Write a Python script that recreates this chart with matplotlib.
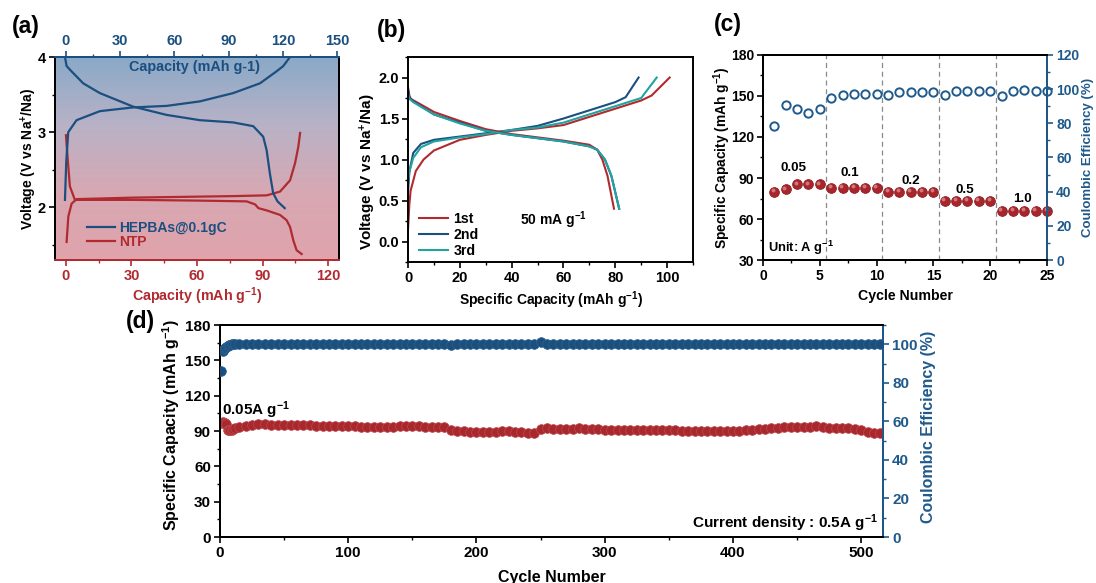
import numpy as np
import matplotlib.pyplot as plt
import matplotlib.transforms as mtransforms
from matplotlib.colors import LinearSegmentedColormap
from matplotlib.ticker import MultipleLocator

plt.rcParams['font.family'] = ['Liberation Sans', 'DejaVu Sans']
plt.rcParams['font.weight'] = 'bold'
plt.rcParams['axes.labelweight'] = 'bold'
plt.rcParams['mathtext.fontset'] = 'custom'
plt.rcParams['mathtext.rm'] = 'Liberation Sans:bold'
plt.rcParams['mathtext.bf'] = 'Liberation Sans:bold'
plt.rcParams['mathtext.it'] = 'Liberation Sans:bold:italic'
plt.rcParams['mathtext.default'] = 'rm'
plt.rcParams['axes.linewidth'] = 1.4

RED = '#b02a30'
BLUE = '#1a4f80'
TEAL = '#22a3a0'
CE_BLUE = '#1f5a8c'

# ---- (a) full cell: HEPBAs cathode (top axis) vs NTP anode (bottom axis)
hep_chg_x = [-0.5, 0.2, 1.3, 5.9, 18.8, 37.2, 55.7, 74.1, 92.5, 107.3, 116.5, 120.2, 123.9]
hep_chg_y = [2.10, 2.60, 3.00, 3.16, 3.28, 3.33, 3.35, 3.41, 3.52, 3.65, 3.81, 3.88, 4.00]
hep_dis_x = [-0.5, 0.4, 3.1, 9.6, 18.8, 37.2, 55.7, 74.1, 92.5, 103.6, 109.1, 111.0, 112.8, 114.6, 117.0, 121.0]
hep_dis_y = [4.00, 3.88, 3.81, 3.65, 3.52, 3.34, 3.23, 3.16, 3.13, 3.08, 2.94, 2.76, 2.45, 2.19, 2.08, 1.99]
ntp_chg_x = [0.3, 1.1, 2.6, 4.9, 30.8, 76.6, 91.9, 98.0, 102.6, 104.9, 106.4, 107.2]
ntp_chg_y = [1.54, 1.88, 2.05, 2.11, 2.13, 2.15, 2.16, 2.21, 2.36, 2.59, 2.81, 2.99]
ntp_dis_x = [0.0, 0.6, 1.8, 4.1, 30.8, 61.4, 82.7, 86.6, 88.1, 91.9, 98.0, 101.0, 102.6, 104.1, 105.6, 107.9]
ntp_dis_y = [2.96, 2.72, 2.28, 2.10, 2.10, 2.09, 2.08, 2.04, 1.99, 1.96, 1.90, 1.83, 1.74, 1.56, 1.43, 1.38]

# ---- (b) first three cycles at 50 mA/g
c1_chg_x = [0, 0.5, 1, 3, 6, 10, 20, 30, 40, 50, 60, 70, 80, 90, 94, 101]
c1_chg_y = [0.15, 0.45, 0.62, 0.86, 1.0, 1.11, 1.24, 1.30, 1.35, 1.38, 1.42, 1.52, 1.62, 1.72, 1.78, 2.0]
c1_dis_x = [0, 0.5, 1, 5, 10, 20, 30, 40, 50, 60, 70, 73, 75, 77, 79.5]
c1_dis_y = [1.88, 1.78, 1.74, 1.67, 1.58, 1.47, 1.37, 1.31, 1.27, 1.23, 1.18, 1.12, 1.0, 0.8, 0.4]
c2_chg_x = [0, 0.5, 2, 5, 10, 20, 30, 40, 50, 60, 70, 80, 84, 89]
c2_chg_y = [0.6, 0.85, 1.08, 1.19, 1.24, 1.28, 1.32, 1.36, 1.41, 1.50, 1.60, 1.70, 1.76, 2.0]
c2_dis_x = [0, 0.5, 2, 10, 20, 30, 40, 50, 60, 70, 73, 76, 78.5, 81.5]
c2_dis_y = [1.85, 1.76, 1.71, 1.55, 1.45, 1.35, 1.30, 1.26, 1.22, 1.16, 1.12, 1.0, 0.8, 0.4]
c3_chg_x = [0, 0.5, 2, 5, 10, 20, 30, 40, 50, 60, 70, 80, 90, 96]
c3_chg_y = [0.7, 0.85, 1.02, 1.15, 1.22, 1.27, 1.31, 1.36, 1.39, 1.45, 1.55, 1.65, 1.75, 2.0]
c3_dis_x = [0, 0.5, 2, 10, 20, 30, 40, 50, 60, 70, 73, 76, 78.5, 81.5]
c3_dis_y = [1.80, 1.74, 1.70, 1.55, 1.44, 1.35, 1.30, 1.26, 1.22, 1.16, 1.12, 1.0, 0.8, 0.4]

# ---- (c) rate performance
rate_cycle = list(range(1, 26))
rate_cap = [80, 82, 85.5, 85.5, 85.5, 83, 83, 83, 83, 83, 80, 80, 80, 80, 80,
            73.5, 73.5, 73.5, 73.5, 73.5, 66, 66, 66, 66, 66]
rate_ce = [78.5, 91, 88.6, 86, 88.2, 95, 96.8, 97.2, 96.9, 97.2, 96.6, 98.5, 98.4, 98.2, 98.6,
           96.6, 99.1, 99.1, 99.1, 99.1, 96.2, 99.2, 99.6, 99.1, 99.2]
rate_labels = ['0.05', '0.1', '0.2', '0.5', '1.0']
rate_label_x = [2.7, 7.6, 13.0, 17.8, 22.8]
rate_label_y = [97.3, 93.6, 87.8, 81.2, 74.6]
rate_breaks = [5.5, 10.5, 15.5, 20.5]

# ---- (d) long cycling at 0.5 A/g
long_cycle = [1, 2, 3, 4, 5, 6, 7, 8, 9, 10, 12] + list(range(15, 516, 5))
long_cap = [97, 97.5, 97, 96.5, 96, 91, 90.5, 90.5, 91, 91.5, 92.5,
            93.5, 94.5, 95.2, 95.6, 95.7, 95.5, 95.3, 95.2, 95.0, 95.0,
            94.8, 94.8, 94.6, 94.5, 94.3, 94.2, 94.1, 94.0, 93.9, 93.8,
            93.6, 93.6, 93.6, 93.7, 93.8, 94.2, 94.1, 94.0, 93.9, 93.8,
            93.6, 93.4, 93.0, 91.0, 90.2, 89.8, 89.5, 89.3, 89.2, 89.0,
            89.5, 90.0, 89.8, 89.3, 88.8, 88.6, 88.3, 92.0, 92.2, 92.0,
            91.8, 91.5, 92.0, 92.2, 92.0, 91.6, 91.4, 91.2, 91.0, 91.0,
            90.8, 90.8, 90.9, 91.0, 91.2, 91.0, 90.8, 90.6, 90.5, 90.4,
            90.3, 90.2, 90.2, 90.1, 90.2, 90.1, 90.0, 90.2, 90.3, 90.5,
            90.8, 91.3, 92.0, 92.5, 92.8, 93.0, 93.2, 93.4, 93.6, 93.8,
            94.0, 93.5, 92.6, 92.2, 92.6, 92.3, 91.6, 90.5, 89.2, 88.5, 88.2]
long_ce = [86.0, 96.5, 97.5, 98.0, 98.5, 99.0, 99.5, 99.8, 100.0, 100.0, 100.1,
           100.0, 100.2, 100.1, 100.0, 100.1, 100.0, 99.9, 100.0, 100.1, 100.0,
           100.0, 99.9, 100.0, 100.1, 100.0, 100.0, 100.1, 99.9, 100.0, 100.0,
           100.1, 100.0, 99.9, 100.0, 100.0, 100.1, 100.0, 100.0, 99.9, 100.0,
           100.1, 100.0, 100.0, 99.8, 100.0, 100.0, 100.1, 100.0, 99.9, 100.0,
           100.0, 100.1, 100.0, 100.0, 99.9, 100.0, 100.0, 101.3, 100.2, 100.0,
           100.0, 100.1, 100.0, 99.9, 100.0, 100.0, 100.1, 100.0, 100.0, 99.9,
           100.0, 100.1, 100.0, 100.0, 100.0, 100.1, 99.9, 100.0, 100.0, 100.1,
           100.0, 100.0, 99.9, 100.0, 100.1, 100.0, 100.0, 100.0, 99.9, 100.0,
           100.1, 100.0, 100.0, 100.2, 100.0, 99.9, 100.0, 100.1, 100.0, 100.0,
           99.9, 100.0, 100.1, 100.0, 100.0, 99.9, 100.0, 100.0, 100.1, 100.0, 100.0]


def style_ticks(ax, which_axes='both', color='black', size=10):
    ax.tick_params(axis=which_axes, which='major', direction='out', length=4, width=1.2,
                   labelsize=size, colors=color, pad=2.5)
    ax.tick_params(axis=which_axes, which='minor', direction='out', length=2.2, width=1.0,
                   colors=color)


def place_labels(ax, xl=None, yl=None):
    # put axis titles at fixed spots (axes fraction), centred on the anchor
    if xl is not None:
        ax.xaxis.label.set_va('center')
        ax.xaxis.set_label_coords(*xl)
    if yl is not None:
        ax.yaxis.label.set_va('center')
        ax.yaxis.set_label_coords(*yl)


fig = plt.figure(figsize=(10.96, 5.83), dpi=100)

# ================= (a) =================
ax_a = fig.add_axes([0.0502, 0.554, 0.2591, 0.3482])
ax_a.set_xlim(-5, 125)
ax_a.set_ylim(1.3, 4.0)
bg = LinearSegmentedColormap.from_list('bg', ['#e0a3ab', '#d7a8b3', '#b8b2c6', '#89a9c8'])
ax_a.imshow(np.linspace(0, 1, 256).reshape(-1, 1), cmap=bg, origin='lower',
            extent=[-5, 125, 1.3, 4.0], aspect='auto', zorder=0)
ax_a.plot(ntp_chg_x, ntp_chg_y, color=RED, lw=1.6, zorder=3)
ax_a.plot(ntp_dis_x, ntp_dis_y, color=RED, lw=1.6, zorder=3, label='NTP')
ax_a.xaxis.set_major_locator(MultipleLocator(30))
ax_a.xaxis.set_minor_locator(MultipleLocator(15))
ax_a.yaxis.set_major_locator(MultipleLocator(1))
ax_a.yaxis.set_minor_locator(MultipleLocator(0.5))
style_ticks(ax_a, 'x', RED, size=10.5)
style_ticks(ax_a, 'y', 'black', size=10.5)
ax_a.spines['bottom'].set_color(RED)
ax_a.spines['top'].set_color(BLUE)
ax_a.set_xlabel('Capacity (mAh g$^{-1}$)', color=RED, fontsize=10.3)
ax_a.set_ylabel('Voltage (V vs Na$^{+}$/Na)', fontsize=10)
place_labels(ax_a, (0.5, -0.177), (-0.092, 0.5))

ax_a2 = ax_a.twiny()
ax_a2.set_xlim(-6, 151)
ax_a2.plot(hep_chg_x, hep_chg_y, color=BLUE, lw=1.6, zorder=3, label='HEPBAs@0.1gC')
ax_a2.plot(hep_dis_x, hep_dis_y, color=BLUE, lw=1.6, zorder=3)
ax_a2.xaxis.set_major_locator(MultipleLocator(30))
ax_a2.xaxis.set_minor_locator(MultipleLocator(15))
style_ticks(ax_a2, 'x', BLUE, size=10.5)
ax_a2.spines['top'].set_color(BLUE)
ax_a2.spines['bottom'].set_color(RED)
ax_a.text(0.49, 0.95, 'Capacity (mAh g-1)', transform=ax_a.transAxes, ha='center',
          va='center', color=BLUE, fontsize=10.4, zorder=5)

h1, l1 = ax_a2.get_legend_handles_labels()
h2, l2 = ax_a.get_legend_handles_labels()
leg = ax_a2.legend(h1 + h2, l1 + l2, loc='lower left', bbox_to_anchor=(0.08, 0.005),
                   frameon=False, fontsize=10, handlelength=2.0, handletextpad=0.3,
                   labelspacing=0.05, borderpad=0.2)
for txt, col in zip(leg.get_texts(), [BLUE, RED]):
    txt.set_color(col)

# ================= (b) =================
ax_b = fig.add_axes([0.3723, 0.5506, 0.2600, 0.3516])
for xs, ys, col, lab in [(c1_chg_x, c1_chg_y, RED, '1st'), (c2_chg_x, c2_chg_y, BLUE, '2nd'),
                         (c3_chg_x, c3_chg_y, TEAL, '3rd')]:
    ax_b.plot(xs, ys, color=col, lw=1.5, label=lab)
for xs, ys, col in [(c1_dis_x, c1_dis_y, RED), (c2_dis_x, c2_dis_y, BLUE),
                    (c3_dis_x, c3_dis_y, TEAL)]:
    ax_b.plot(xs, ys, color=col, lw=1.5)
ax_b.set_xlim(0, 110)
ax_b.set_ylim(-0.25, 2.25)
ax_b.xaxis.set_major_locator(MultipleLocator(20))
ax_b.xaxis.set_minor_locator(MultipleLocator(10))
ax_b.yaxis.set_major_locator(MultipleLocator(0.5))
ax_b.yaxis.set_minor_locator(MultipleLocator(0.25))
ax_b.yaxis.set_major_formatter(plt.FormatStrFormatter('%.1f'))
style_ticks(ax_b, size=10.5)
ax_b.set_xlabel('Specific Capacity (mAh g$^{-1}$)', fontsize=10)
ax_b.set_ylabel('Voltage (V vs Na$^{+}$/Na)', fontsize=11)
place_labels(ax_b, (0.5, -0.185), (-0.14, 0.44))
ax_b.legend(loc='lower left', bbox_to_anchor=(0.0, -0.035), frameon=False, fontsize=10.2,
            handlelength=2.0, handletextpad=0.4, labelspacing=0.15, borderpad=0.3)
ax_b.text(56, 0.26, '50 mA g$^{-1}$', ha='center', va='center', fontsize=10)

# ================= (c) =================
ax_c = fig.add_axes([0.6962, 0.554, 0.2591, 0.3517])
ax_c.set_xlim(0, 25)
ax_c.set_ylim(30, 180)
for xb in rate_breaks:
    ax_c.axvline(xb, color='#8a8a8a', lw=0.9, ls=(0, (4, 3)), zorder=1)
sheen = mtransforms.offset_copy(ax_c.transData, fig=fig, x=-1.0, y=1.0, units='points')
ax_c.plot(rate_cycle, rate_cap, 'o', ms=7, mfc='#a8262b', mec='#8c1d22', mew=0.6, zorder=3,
          clip_on=False)
ax_c.plot(rate_cycle, rate_cap, 'o', ms=2.8, mfc='#dc8c90', mec='none', alpha=0.8, zorder=4,
          transform=sheen, clip_on=False)
for lab, lx, ly in zip(rate_labels, rate_label_x, rate_label_y):
    ax_c.text(lx, ly, lab, ha='center', va='center', fontsize=9.7)
ax_c.text(0.4, 38.5, 'Unit: A g$^{-1}$', ha='left', va='center', fontsize=9.3)
ax_c.xaxis.set_major_locator(MultipleLocator(5))
ax_c.xaxis.set_minor_locator(MultipleLocator(2.5))
ax_c.yaxis.set_major_locator(MultipleLocator(30))
ax_c.yaxis.set_minor_locator(MultipleLocator(15))
style_ticks(ax_c, size=10)
ax_c.set_xlabel('Cycle Number', fontsize=10.2)
ax_c.set_ylabel('Specific Capacity (mAh g$^{-1}$)', fontsize=9.9)
place_labels(ax_c, (0.5, -0.176), (-0.145, 0.5))

ax_c2 = ax_c.twinx()
ax_c2.set_ylim(0, 120)
ax_c2.plot(rate_cycle, rate_ce, 'o', ms=6, mfc='none', mec=CE_BLUE, mew=1.4, clip_on=False)
ax_c2.yaxis.set_major_locator(MultipleLocator(20))
ax_c2.yaxis.set_minor_locator(MultipleLocator(10))
style_ticks(ax_c2, 'y', CE_BLUE, size=10)
ax_c2.spines['right'].set_color(CE_BLUE)
ax_c2.set_ylabel('Coulombic Efficiency (%)', color=CE_BLUE, fontsize=9.5)
place_labels(ax_c2, yl=(1.144, 0.5))

# ================= (d) =================
ax_d = fig.add_axes([0.2007, 0.0789, 0.6050, 0.3636])
ax_d.set_xlim(0, 517)
ax_d.set_ylim(0, 180)
ax_d.plot(long_cycle, long_cap, 'o', ms=7, mfc='#a9282d', mec='#bb4a4e', mew=0.5, zorder=3)
ax_d.xaxis.set_major_locator(MultipleLocator(100))
ax_d.xaxis.set_minor_locator(MultipleLocator(50))
ax_d.yaxis.set_major_locator(MultipleLocator(30))
ax_d.yaxis.set_minor_locator(MultipleLocator(15))
style_ticks(ax_d, size=11)
ax_d.set_xlabel('Cycle Number', fontsize=11.5)
ax_d.set_ylabel('Specific Capacity (mAh g$^{-1}$)', fontsize=11.5)
place_labels(ax_d, (0.5, -0.189), (-0.073, 0.53))
ax_d.text(1.5, 108, '0.05A g$^{-1}$', ha='left', va='center', fontsize=11)
ax_d.text(513, 12, 'Current density : 0.5A g$^{-1}$', ha='right', va='center', fontsize=11)

ax_d2 = ax_d.twinx()
ax_d2.set_ylim(0, 110)
ax_d2.plot(long_cycle, long_ce, 'o', ms=7, mfc='#1b4f7e', mec='#2d6290', mew=0.5, zorder=3)
ax_d2.yaxis.set_major_locator(MultipleLocator(20))
ax_d2.yaxis.set_minor_locator(MultipleLocator(10))
style_ticks(ax_d2, 'y', CE_BLUE, size=11)
ax_d2.spines['right'].set_color(CE_BLUE)
ax_d2.set_ylabel('Coulombic Efficiency (%)', color=CE_BLUE, fontsize=11.5)
place_labels(ax_d2, yl=(1.068, 0.52))

# panel tags
for tag, px, py in [('(a)', 26, 26), ('(b)', 391, 30), ('(c)', 728, 25), ('(d)', 140, 321)]:
    fig.text(px / 1096, 1 - py / 583, tag, ha='center', va='center', fontsize=16.5,
             fontweight='bold')

fig.savefig('out.png', dpi=100)
